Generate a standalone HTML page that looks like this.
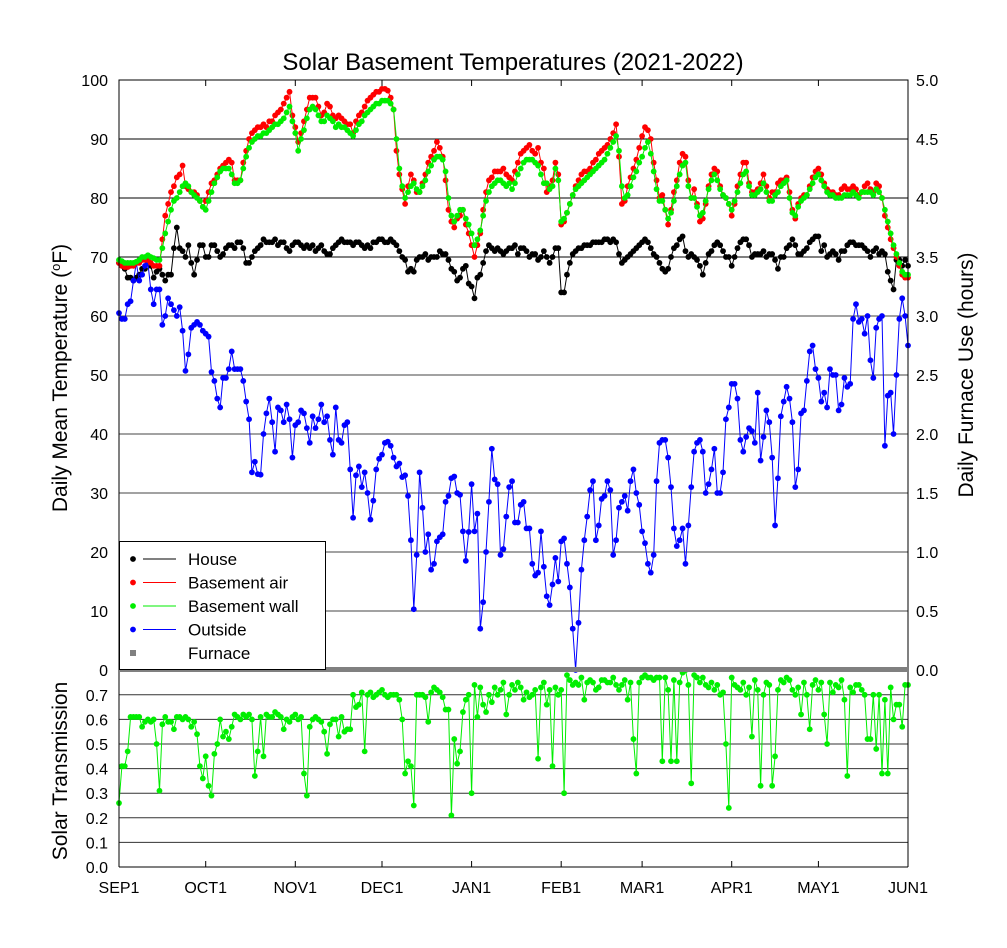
<!DOCTYPE html>
<html><head><meta charset="utf-8"><style>
body{margin:0;background:#fff}
svg{display:block;font-family:"Liberation Sans",sans-serif}
</style></head><body>
<svg id="chart" width="1007" height="948" viewBox="0 0 1007 948" xmlns="http://www.w3.org/2000/svg">
<rect width="1007" height="948" fill="#fff"/>
<g id="grid"></g>
<g id="series"></g>
<g id="axes"></g>
</svg>
<script>
const monthLabels=["SEP1","OCT1","NOV1","DEC1","JAN1","FEB1","MAR1","APR1","MAY1","JUN1"];
const monthDays=[0,30,61,91,122,153,181,212,242,273];
const tempTicks=[0,10,20,30,40,50,60,70,80,90,100];
const hourTicks=["0.0","0.5","1.0","1.5","2.0","2.5","3.0","3.5","4.0","4.5","5.0"];
const solarTicks=[0.0,0.1,0.2,0.3,0.4,0.5,0.6,0.7];
const house=[69,68.5,68,66.5,66.5,66,66.5,67,68,68,69,68.5,66.5,67.5,68,67,66,67,67,71.5,75,71.5,71,70,72,69,67,69.5,72,72,
70,70,72,72,71,70,70.5,71.5,72,72,71.5,72.5,72.5,71.5,69,69,70,71,71.5,72,73,72.5,72.5,72.5,73,72,72.5,72.5,71.5,71,72,
72.5,72.5,72,71.5,72,71.5,72,71,71.5,72,71,70.5,70.5,71.5,72,72.5,73,72.5,72.5,72.5,72,72.5,72.5,72,71.5,72,71.5,72.5,72.5,73,
73,72.5,72.5,73,72.5,72,71,70,69.5,67.5,68,67.5,69.5,70,70,70.5,69.5,70,70,70,71,70.5,70.5,69.5,68,67.5,66,66.5,68,68.5,65.5,
65,63,66.5,67,69,71,72,71.5,71,71.5,71,70.5,71,71.5,71.5,72,70.5,71.5,71.5,71,70,70.5,70.5,69.5,70,71,70,69,70,71.5,71.5,
64,64,67,69,70.5,71,71.5,71.5,72,72,72,72.5,72.5,72.5,72.5,73,73,72.5,73,72.5,70.5,69,69.5,70,70.5,71,71.5,72,
72.5,73,72.5,71.5,70.5,70,69,68,67.5,68,70,71.5,72,73,73.5,71,70,70.5,70,69.5,68.5,67,69,70.5,71,72,72.5,72,71,70,70,
68.5,70,71.5,72.5,73,73,72,70,70.5,70.5,70.5,71,70,70.5,70.5,69.5,68,70,70,71.5,72,73,72,70.5,70.5,71,71.5,72.5,73,73.5,
73.5,71,72,70,70.5,71,70.5,69.5,71,71,72,72.5,72.5,72,72,72,71.5,71,70,71,71.5,70.5,71,70.5,67.5,66,64.5,69.5,69.5,68.5,69.5,68.5];
const basementAir=[69,68.5,68.3,68.3,68.5,68.5,69,69,69.5,69.5,69.5,69,68.5,68.5,68.5,73,77,79,81,82,83.5,84,85.5,82,81.5,81,81,80.5,79.5,78.5,
79.5,81,82.5,83,84,85,85.5,86,86.5,86,83,83,83,86,88,90,91,91.5,92,92,92.5,92,93,93,94,94.5,95,96,97,98,94,
92,89.5,91,93,95,97,97,97,95.5,94,94.5,96,95.5,94,93.5,94,93.5,93,92.5,92.5,91,93,94,94.5,95.5,96.5,97,97.5,98,98,
98.5,98.5,98.2,97,95,88,84,81.5,79,82,84,83,81,81,82.5,84,86,87,88,89.5,88.5,87,83,78,76,75,76.5,77,78,75.5,74,
72,70,72,74,78,81,83,83.5,84.5,84.5,84.5,85,84,83.5,83,84.5,86,87.5,88,88.5,89,88,87.5,88.5,86,85,81,82,83,86,84,
75.5,76,77.5,79,80.5,82,83,84,84.5,84.5,85,86,86.5,87.5,88,88.5,89,90,91,92.5,87,79,79.5,82,83.5,85,86.5,88.5,
90.5,92,91.5,90,86,83,80,80.5,78,75.5,78,81,83,86,87.5,87,83,80,81.5,79,76,76.5,79,82,84,85,84.5,82,80.5,80,79,
77,79,82,84,86,86,82.5,81,81,81.5,82.5,84,82,80,81,81,82.5,83,83,83.5,81,78,76.5,79,80,80.5,80.5,82,83.5,84.5,
85,84,82.5,81.5,81,81,80.5,80.5,81.5,82,81.5,81.5,82,81.5,80.5,81,82,82.5,81.5,81,82.5,82,80,77,75,73,71.5,70,68.5,67,66.5,66.5];
const basementWall=[69.5,69.3,69,69,69,69,69.2,69.5,70,70,70.3,70,69.8,69.5,69.5,71.5,74,76,78,79.5,80,81,82,82.5,82,81,80.5,80,79.5,78.5,
78,79.5,81,82.5,83.5,84.5,85,85,85,84,82.5,82.5,83,85,87,88.5,89.5,90,90.5,90.5,91,91,91.5,92,92.5,92.5,93,93.5,94.5,95.5,93,
91,88,90,91.5,93.5,95,95.5,95,94,93,93,94,93.5,93,92,92.5,92,92,91.5,91,90.5,91.5,92.5,93,94,94.5,95,95.5,96,96,
96.5,96.5,96.5,96,95,90,85,82,80,81,82,82.5,81.5,81,82,83,84.5,85.5,86.5,87,87,86.5,84.5,80,77,76,77,78,78,76.5,75.5,
74,72,73,74.5,77,79.5,81,82,82.5,83,83,82.5,82,82.5,81.5,82.5,84,85,86,86.5,86.5,86.5,86,85.5,84,82.5,82.5,81.5,82,85,83,
76,76.5,77.5,79,80.5,81.5,82,82.5,83,83.5,84,84.5,85,85.5,86,86.5,87.5,88.5,89.5,90.5,88,82,80,80.5,82,83.5,84.5,86,
87,88.5,89.5,87.5,84.5,81.5,79.5,79.5,78,76.5,77.5,79.5,82,84,85.5,86,82,80,80,78.5,77,77.5,79.5,81.5,83,84,83,81.5,80.5,80,79,
78,79.5,81,82.5,84,84.5,82,80.5,80.5,81,81.5,82.5,81,79.5,79.5,80.5,81,82,82.5,83,80,77.5,77,78.5,79.5,80,80.5,81.5,82.5,83.5,
84,83,82,81,80.5,80.5,80,80,80,80.5,80.5,80.5,81,80.5,80,81,81,81,81,80.5,81.5,81,80,78,76,74,72,70.5,69,67.5,67,67];
const outside=[60.5,59.5,59.5,62,62.5,66,69,66,67,68.5,69,64.5,62,64.5,64.5,58.5,60,63,62,61,60,61.5,57.5,50.7,53.5,58,58.5,59,58.5,57.5,
57,56.5,50.5,49,46,44.5,49.5,49.5,51,54,51,51,51,49,45.5,42.5,33.5,35.3,33.2,33.1,40,43.5,46,42,37,44.5,44,42,45,42.5,36,
41.5,42,44,43.5,41,38.5,43,41,42.5,45,42,43,39,36.5,44.5,39,38.5,41.5,42,34,25.8,33,34.5,31,33.5,30,25.5,28.7,34,35.8,
36.5,38.5,38.7,38,36,34.5,35,32.7,33,29.5,22,10.3,19.5,33.5,27.5,20,23,17,18,21.8,22.5,23,28.5,29.5,32.5,32.8,30,29.7,23.5,18.5,23.4,
31.5,23.5,26.5,7,11.5,20,28.5,37.5,32.3,31.5,19.5,20.5,26,31,32,25,25,28,28.5,24,24,18,16,16.5,23.5,17.5,12.5,11,14.5,19,15,
21.8,22.3,18,14,7,0,8,17,22,26,30.5,32,22,24.5,29,29.5,32,30.5,19.5,22,27.5,28.5,29.5,27,32,34,30,28,
23.5,21.5,18,16.5,19.5,32,38.5,39,39,36,31,24,21,22,24,18,24.5,31,37,38.5,39,37,30,31.5,34,37.5,30,30,33.5,42.5,44.5,
48.5,48.5,46,39,37,39.5,41,40.5,38.5,47,35.5,39.5,44,42,36,24.5,32.5,43,45.5,48,46,42,31,34,43.5,44,49,54,55,51,
49.5,45.5,47,44.5,51,50,50,44,45,49.5,48,48.5,59.5,62,59,59.5,57,60,52.5,49.5,58,59.5,60,38,46.5,47,40,50,59.5,63,60,55];
const solar=[0.26,0.41,0.41,0.47,0.61,0.61,0.61,0.61,0.57,0.59,0.6,0.59,0.6,0.5,0.31,0.58,0.61,0.59,0.59,0.56,0.61,0.61,0.6,0.61,0.6,0.57,0.59,0.54,0.41,0.36,
0.45,0.33,0.29,0.46,0.5,0.6,0.53,0.55,0.52,0.57,0.62,0.61,0.6,0.62,0.61,0.62,0.6,0.37,0.47,0.61,0.45,0.62,0.61,0.61,0.63,0.62,0.61,0.56,0.6,0.59,0.61,
0.62,0.6,0.61,0.38,0.29,0.57,0.6,0.61,0.6,0.59,0.55,0.46,0.58,0.6,0.6,0.53,0.61,0.55,0.56,0.56,0.7,0.65,0.66,0.71,0.47,0.7,0.71,0.69,0.7,0.71,
0.72,0.7,0.69,0.7,0.7,0.7,0.68,0.6,0.38,0.43,0.41,0.25,0.7,0.7,0.7,0.69,0.59,0.71,0.73,0.72,0.71,0.69,0.64,0.64,0.21,0.52,0.42,0.47,0.63,0.68,0.7,
0.3,0.74,0.61,0.73,0.66,0.63,0.7,0.67,0.73,0.7,0.72,0.75,0.62,0.7,0.74,0.72,0.75,0.73,0.68,0.71,0.69,0.7,0.72,0.44,0.73,0.75,0.66,0.72,0.41,0.73,0.7,
0.72,0.3,0.78,0.76,0.74,0.75,0.74,0.77,0.68,0.75,0.76,0.75,0.72,0.73,0.76,0.76,0.75,0.75,0.77,0.74,0.72,0.74,0.76,0.68,0.75,0.52,0.38,0.75,
0.77,0.78,0.77,0.77,0.76,0.77,0.77,0.43,0.77,0.72,0.43,0.76,0.43,0.75,0.79,0.8,0.74,0.34,0.78,0.77,0.75,0.77,0.74,0.73,0.75,0.72,0.74,0.7,0.71,0.5,0.24,
0.77,0.74,0.73,0.72,0.75,0.7,0.73,0.53,0.76,0.72,0.33,0.7,0.75,0.74,0.33,0.45,0.72,0.76,0.75,0.77,0.76,0.72,0.7,0.73,0.62,0.75,0.7,0.56,0.74,0.76,
0.72,0.75,0.62,0.5,0.75,0.71,0.74,0.73,0.76,0.68,0.37,0.73,0.71,0.74,0.74,0.72,0.7,0.52,0.52,0.7,0.48,0.7,0.38,0.68,0.38,0.73,0.6,0.66,0.66,0.57,0.74,0.74];

const NS="http://www.w3.org/2000/svg";
const X0=119,X1=908,TOTAL=273;
const xS=d=>X0+(X1-X0)*d/TOTAL;
const yT=v=>80+(100-v)*5.9;
const yS=v=>867-v*246;
function mk(parent,tag,attrs,text){const e=document.createElementNS(NS,tag);for(const k in attrs)e.setAttribute(k,attrs[k]);if(text!==undefined)e.textContent=text;parent.appendChild(e);return e;}
const grid=document.getElementById('grid'),ser=document.getElementById('series'),ax=document.getElementById('axes');

tempTicks.forEach(t=>{if(t>0&&t<100){const l=mk(grid,'line',{x1:X0,x2:X1,y1:yT(t),y2:yT(t),stroke:t>=70?'#000':'#444','stroke-width':1});

}});
solarTicks.forEach(t=>{if(t>0){const l=mk(grid,'line',{x1:X0,x2:X1,y1:yS(t),y2:yS(t),stroke:'#333','stroke-width':1});

}});

function drawSeries(vals,yf,color,name){
  const g=mk(ser,'g',{});
  
  
  const pts=vals.map((v,i)=>xS(i).toFixed(1)+','+yf(v).toFixed(1)).join(' ');
  mk(g,'polyline',{points:pts,fill:'none',stroke:color,'stroke-width':1});
  vals.forEach((v,i)=>{const c=mk(g,'circle',{cx:xS(i),cy:yf(v),r:2.9,fill:color});
  
  });
}
drawSeries(house,yT,'#000','house');
drawSeries(outside,yT,'#0000ff','outside');
drawSeries(basementAir,yT,'#ff0000','basement-air');
drawSeries(basementWall,yT,'#00ee00','basement-wall');
drawSeries(solar,yS,'#00ee00','solar-transmission');

const fr=mk(ax,'path',{d:`M${X0},867 V80 H${X1} V867`,fill:'none',stroke:'#000','stroke-width':1});


const bl=mk(ax,'line',{x1:X0,x2:X1,y1:867,y2:867,stroke:'#000','stroke-width':1});


const sep=mk(ax,'rect',{x:X0,y:667,width:X1-X0,height:5,fill:'#808080'});



monthDays.forEach((d,i)=>{
  mk(ax,'line',{x1:xS(d),x2:xS(d),y1:80,y2:86,stroke:'#000'});
  mk(ax,'line',{x1:xS(d),x2:xS(d),y1:867,y2:861,stroke:'#000'});
  const t=mk(ax,'text',{x:xS(d),y:893,'text-anchor':'middle','font-size':16},monthLabels[i]);
  
  
});
tempTicks.forEach(t=>{const e=mk(ax,'text',{x:108,y:yT(t)+6,'text-anchor':'end','font-size':16},String(t));

});
hourTicks.forEach((h,i)=>{const e=mk(ax,'text',{x:916,y:yT(i*10)+6,'text-anchor':'start','font-size':16},h);

});
solarTicks.forEach(t=>{const e=mk(ax,'text',{x:108,y:yS(t)+6,'text-anchor':'end','font-size':16},t.toFixed(1));

});

const title=mk(ax,'text',{x:513,y:70,'text-anchor':'middle','font-size':24},'Solar Basement Temperatures (2021-2022)');


const yl=mk(ax,'text',{transform:'translate(67,378) rotate(-90)','text-anchor':'middle','font-size':21},'');


yl.innerHTML='Daily Mean Temperature (<tspan baseline-shift="super" font-size="13">o</tspan>F)';
const yr=mk(ax,'text',{transform:'translate(973,375) rotate(-90)','text-anchor':'middle','font-size':21},'Daily Furnace Use (hours)');


const ys=mk(ax,'text',{transform:'translate(67,771) rotate(-90)','text-anchor':'middle','font-size':21},'Solar Transmission');



const lg=mk(ax,'g',{});


mk(lg,'rect',{x:119.5,y:541.5,width:206,height:128,fill:'#fff',stroke:'#000'});
const legNames=['House','Basement air','Basement wall','Outside','Furnace'];
const legColors=['#000','#ff0000','#00ee00','#0000ff','#808080'];
legNames.forEach((n,i)=>{
  const y=559+i*23.5;
  const e=mk(lg,'g',{});
  
  
  if(i<4){mk(e,'circle',{cx:133,cy:y,r:2.9,fill:legColors[i]});mk(e,'line',{x1:143,x2:176,y1:y,y2:y,stroke:legColors[i]});}
  else mk(e,'rect',{x:130,y:y-3,width:6,height:6,fill:legColors[i]});
  mk(e,'text',{x:188,y:y+6,'font-size':17},n);
});
</script>
</body></html>
